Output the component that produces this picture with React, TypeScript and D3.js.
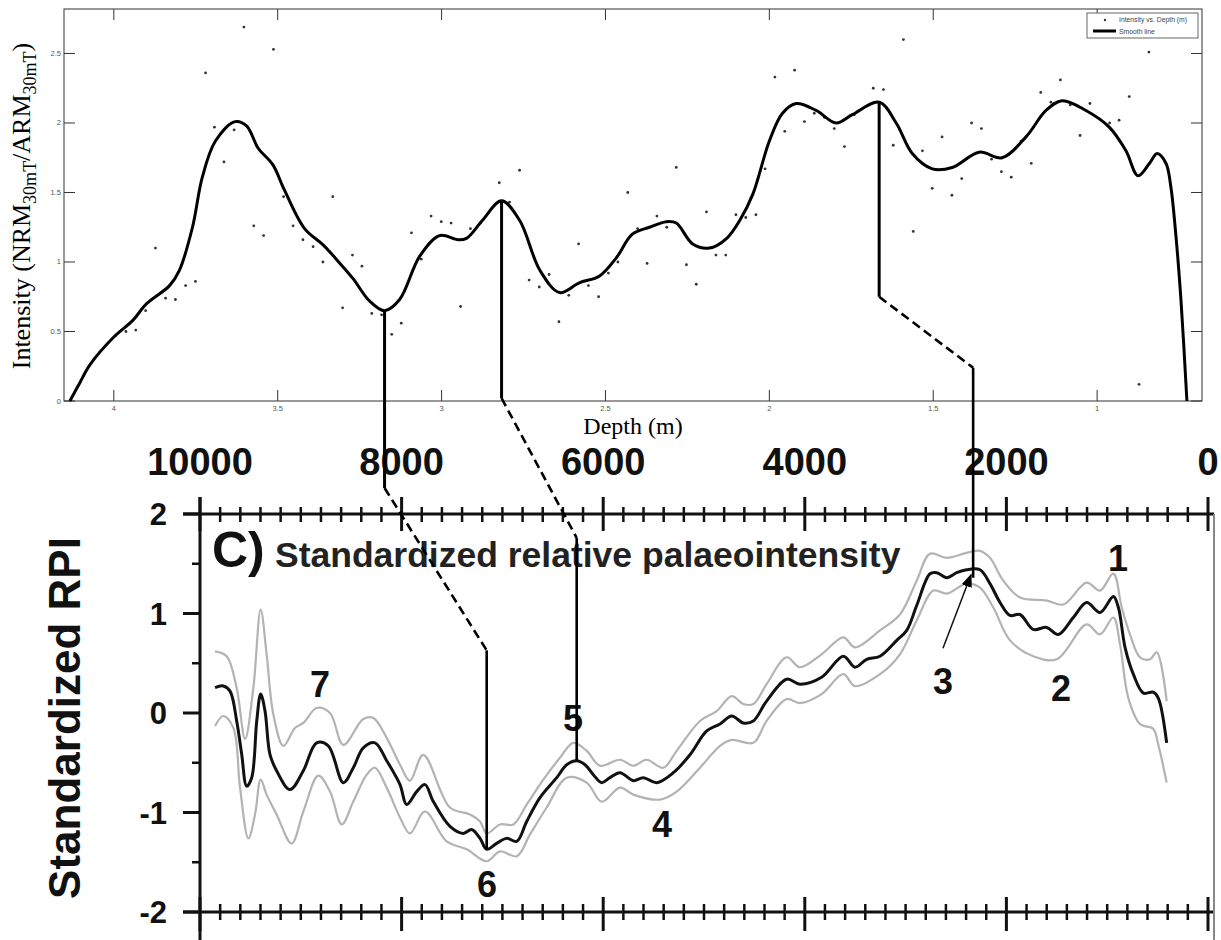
import React from "react";
import * as d3 from "d3";

// ---------- Top panel: intensity vs depth ----------
const smoothDepth = [4.134, 4.104, 4.073, 4.0, 3.942, 3.9, 3.83, 3.8, 3.76, 3.73, 3.69, 3.63, 3.595, 3.56, 3.515, 3.48, 3.418, 3.36, 3.31, 3.27, 3.22, 3.174, 3.128, 3.067, 3.006, 2.95, 2.924, 2.875, 2.817, 2.762, 2.7, 2.64, 2.58, 2.518, 2.467, 2.418, 2.366, 2.314, 2.284, 2.234, 2.183, 2.13, 2.09, 2.05, 2.0, 1.96, 1.918, 1.857, 1.796, 1.747, 1.665, 1.613, 1.564, 1.503, 1.442, 1.36, 1.29, 1.217, 1.156, 1.107, 1.034, 0.963, 0.912, 0.875, 0.84, 0.817, 0.79, 0.775, 0.76, 0.744, 0.726];
const smoothIntensity = [0, 0.13, 0.26, 0.46, 0.58, 0.7, 0.83, 0.94, 1.25, 1.61, 1.87, 2.01, 1.98, 1.82, 1.7, 1.52, 1.24, 1.12, 0.99, 0.88, 0.72, 0.65, 0.73, 1.04, 1.19, 1.16, 1.17, 1.3, 1.44, 1.3, 0.94, 0.78, 0.85, 0.9, 1.03, 1.2, 1.25, 1.29, 1.28, 1.13, 1.1, 1.17, 1.3, 1.49, 1.87, 2.07, 2.14, 2.09, 2.0, 2.06, 2.15, 2.0, 1.78, 1.67, 1.68, 1.79, 1.75, 1.9, 2.09, 2.16, 2.09, 1.97, 1.8, 1.62, 1.71, 1.78, 1.71, 1.54, 1.2, 0.72, 0.0];

const scatterDepth = [3.995, 3.963, 3.933, 3.903, 3.873, 3.842, 3.812, 3.781, 3.751, 3.72, 3.693, 3.664, 3.633, 3.603, 3.573, 3.543, 3.513, 3.482, 3.453, 3.423, 3.392, 3.362, 3.332, 3.302, 3.272, 3.243, 3.213, 3.183, 3.152, 3.123, 3.092, 3.062, 3.032, 3.001, 2.971, 2.942, 2.912, 2.881, 2.824, 2.793, 2.762, 2.733, 2.702, 2.672, 2.642, 2.612, 2.582, 2.552, 2.521, 2.491, 2.462, 2.432, 2.402, 2.373, 2.343, 2.313, 2.284, 2.253, 2.223, 2.192, 2.163, 2.133, 2.102, 2.072, 2.041, 2.013, 1.983, 1.953, 1.923, 1.893, 1.863, 1.832, 1.802, 1.771, 1.741, 1.683, 1.652, 1.622, 1.591, 1.561, 1.533, 1.503, 1.473, 1.443, 1.413, 1.383, 1.353, 1.322, 1.292, 1.262, 1.232, 1.201, 1.172, 1.141, 1.112, 1.082, 1.052, 1.022, 0.962, 0.933, 0.902, 0.872, 0.842];
const scatterIntensity = [0.47, 0.5, 0.51, 0.65, 1.1, 0.74, 0.73, 0.83, 0.86, 2.36, 1.97, 1.72, 1.95, 2.69, 1.26, 1.19, 2.53, 1.47, 1.26, 1.16, 1.11, 1.0, 1.47, 0.67, 1.05, 0.97, 0.63, 0.62, 0.48, 0.56, 1.21, 1.02, 1.33, 1.29, 1.28, 0.68, 1.24, 1.28, 1.57, 1.43, 1.66, 0.87, 0.82, 0.91, 0.57, 0.76, 1.13, 0.83, 0.75, 0.92, 1.0, 1.5, 1.24, 0.99, 1.33, 1.25, 1.68, 0.98, 0.84, 1.36, 1.05, 1.05, 1.34, 1.32, 1.34, 1.67, 2.33, 1.94, 2.38, 2.01, 2.07, 2.04, 1.96, 1.83, 2.06, 2.25, 2.24, 1.84, 2.6, 1.22, 1.8, 1.53, 1.9, 1.48, 1.6, 2.0, 1.96, 1.74, 1.65, 1.61, 1.87, 1.71, 2.22, 2.15, 2.31, 2.13, 1.91, 2.14, 2.0, 2.02, 2.19, 0.12, 2.51];

const depthTicks = [4, 3.5, 3, 2.5, 2, 1.5, 1];
const intensityTicks = [0, 0.5, 1, 1.5, 2, 2.5];

// ---------- Bottom panel: standardized RPI vs age ----------
const rpiAge = [9851, 9769, 9702, 9636, 9587, 9537, 9487, 9437, 9398, 9355, 9306, 9240, 9107, 8975, 8843, 8727, 8578, 8479, 8380, 8264, 8148, 8016, 7950, 7850, 7768, 7685, 7520, 7388, 7305, 7222, 7156, 7057, 6957, 6858, 6759, 6627, 6461, 6362, 6263, 6180, 6098, 6015, 5933, 5833, 5701, 5602, 5470, 5304, 5139, 4973, 4841, 4725, 4610, 4511, 4379, 4180, 4048, 3833, 3618, 3502, 3386, 3254, 3088, 2989, 2890, 2758, 2691, 2592, 2493, 2394, 2262, 2163, 2063, 1964, 1865, 1733, 1600, 1485, 1336, 1204, 1071, 939, 889, 823, 741, 641, 542, 493, 410];
const rpiMean = [0.255, 0.272, 0.22, -0.08, -0.41, -0.735, -0.65, -0.08, 0.19, 0.02, -0.415, -0.58, -0.77, -0.58, -0.3, -0.33, -0.7, -0.55, -0.35, -0.3, -0.48, -0.72, -0.92, -0.79, -0.72, -0.89, -1.14, -1.21, -1.17, -1.26, -1.37, -1.31, -1.26, -1.29, -1.09, -0.85, -0.65, -0.52, -0.48, -0.52, -0.62, -0.7, -0.65, -0.6, -0.68, -0.65, -0.7, -0.6, -0.42, -0.18, -0.11, -0.03, -0.1, -0.08, 0.12, 0.34, 0.29, 0.36, 0.57, 0.46, 0.54, 0.57, 0.73, 0.83, 1.08, 1.4, 1.41, 1.36, 1.41, 1.44, 1.44, 1.3, 1.11, 0.98, 0.99, 0.84, 0.86, 0.79, 0.96, 1.11, 1.01, 1.17, 1.06, 0.66, 0.39, 0.2, 0.21, 0.15, -0.3];

const upperAge = [9851, 9735, 9636, 9553, 9471, 9398, 9339, 9273, 9173, 9058, 8975, 8843, 8710, 8578, 8380, 8280, 8148, 8016, 7917, 7785, 7520, 7321, 7222, 7156, 7024, 6891, 6759, 6594, 6429, 6296, 6164, 6032, 5833, 5701, 5569, 5403, 5271, 5040, 4874, 4725, 4610, 4511, 4379, 4180, 4048, 3833, 3618, 3502, 3254, 3056, 2890, 2758, 2592, 2394, 2262, 2163, 2031, 1865, 1600, 1435, 1204, 1071, 939, 856, 774, 675, 575, 509, 410];
const upperRpi = [0.62, 0.57, 0.25, -0.26, 0.25, 1.04, 0.59, -0.01, -0.33, -0.15, -0.1, 0.05, 0.0, -0.32, -0.06, -0.05, -0.25, -0.52, -0.68, -0.42, -0.95, -1.02, -1.09, -1.21, -1.12, -1.12, -0.92, -0.67, -0.45, -0.3, -0.38, -0.53, -0.47, -0.53, -0.47, -0.55, -0.38, -0.08, 0.02, 0.17, 0.09, 0.09, 0.29, 0.56, 0.46, 0.59, 0.76, 0.66, 0.83, 0.99, 1.33, 1.6, 1.56, 1.61, 1.63, 1.56, 1.33, 1.16, 1.13, 1.09, 1.31, 1.23, 1.4, 1.06, 0.79, 0.56, 0.54, 0.61, 0.12];

const lowerAge = [9851, 9769, 9669, 9603, 9520, 9454, 9398, 9339, 9240, 9091, 8975, 8826, 8710, 8594, 8479, 8346, 8264, 8148, 8016, 7917, 7768, 7553, 7354, 7156, 7024, 6858, 6726, 6561, 6362, 6164, 6015, 5833, 5701, 5437, 5271, 5040, 4841, 4725, 4511, 4379, 4180, 4048, 3833, 3618, 3502, 3254, 3056, 2890, 2724, 2592, 2394, 2262, 2130, 1964, 1733, 1501, 1204, 1071, 939, 873, 790, 675, 542, 493, 410];
const lowerRpi = [-0.13, -0.03, -0.15, -0.75, -1.26, -1.02, -0.67, -0.82, -1.02, -1.31, -0.99, -0.63, -0.79, -1.12, -0.89, -0.62, -0.55, -0.75, -1.05, -1.21, -0.99, -1.29, -1.37, -1.49, -1.39, -1.44, -1.22, -0.95, -0.65, -0.7, -0.89, -0.75, -0.82, -0.87, -0.79, -0.55, -0.33, -0.27, -0.3, -0.08, 0.14, 0.1, 0.19, 0.39, 0.27, 0.39, 0.59, 0.93, 1.23, 1.2, 1.3, 1.26, 1.06, 0.73, 0.57, 0.54, 0.89, 0.79, 0.96, 0.69, 0.15, -0.11, -0.16, -0.32, -0.7];

const ageTicks = [10000, 8000, 6000, 4000, 2000, 0];
const rpiTicks = [2, 1, 0, -1, -2];

const eventLabels = ["1", "2", "3", "4", "5", "6", "7"];
const eventAge = [893, 1458, 2629, 5417, 6300, 7153, 8810];
const eventRpi = [1.56, 0.25, 0.32, -1.12, -0.05, -1.72, 0.29];

// correlation tie lines (top point -> bend -> bottom point)
const tieDepth = [3.174, 2.817, 1.665];
const tieIntensity = [0.65, 1.44, 2.15];
const tieBendIntensity = [-0.626, 0.02, 0.75];
const tieAge = [7156, 6263, 2330];
const tieBendRpi = [0.63, 1.76, 3.47];
const tieEndRpi = [-1.37, -0.48, 1.36];

const arrowAge = [2629, 2351];
const arrowRpi = [0.65, 1.39];

export default function App() {
  const W = 1221, H = 940;
  // top scales
  const xT = d3.scaleLinear().domain([4.152, 0.68]).range([64, 1202]);
  const yT = d3.scaleLinear().domain([0, 2.82]).range([401, 9]);
  // bottom scales
  const xB = d3.scaleLinear().domain([10000, 0]).range([200, 1208]);
  const yB = d3.scaleLinear().domain([-2, 2]).range([912, 514]);

  const smoothLine = d3.line<number>()
    .x((d, i) => xT(smoothDepth[i]))
    .y((d) => yT(d))
    .curve(d3.curveCatmullRom.alpha(0.5));

  const mkLine = (ages: number[]) =>
    d3.line<number>()
      .x((d, i) => xB(ages[i]))
      .y((d) => yB(d))
      .curve(d3.curveCatmullRom.alpha(0.5));

  const serif = "'Liberation Serif', 'Times New Roman', serif";
  const sans = "'Liberation Sans', Arial, Helvetica, sans-serif";
  const axisCol = "#333";

  const minorAges = d3.range(0, 10001, 200).filter((a) => a % 2000 !== 0);
  const minorRpi = [1.5, 0.5, -0.5, -1.5];

  return (
    <svg width={W} height={H} style={{ position: "absolute", left: 0, top: 0, background: "#fff" }}
      xmlns="http://www.w3.org/2000/svg">
      <defs>
        <marker id="ah" viewBox="0 0 10 10" refX="9" refY="5" markerWidth="9" markerHeight="9" orient="auto">
          <path d="M0,1 L10,5 L0,9 Z" fill="#000" />
        </marker>
      </defs>
      <rect width={W} height={H} fill="#fff" />

      {/* ================= TOP PANEL ================= */}
      <g>
        <rect x={xT(4.152)} y={yT(2.82)} width={xT(0.68) - xT(4.152)} height={yT(0) - yT(2.82)}
          fill="none" stroke={axisCol} strokeWidth={1} />
        {depthTicks.map((t) => (
          <g key={"dt" + t}>
            <line x1={xT(t)} x2={xT(t)} y1={yT(0)} y2={yT(0) - 11} stroke={axisCol} />
            <line x1={xT(t)} x2={xT(t)} y1={yT(2.82)} y2={yT(2.82) + 11} stroke={axisCol} />
            <text x={xT(t)} y={yT(0) + 10} fontSize={7.5} fontFamily={sans} fill="#555" textAnchor="middle">{t}</text>
          </g>
        ))}
        {intensityTicks.map((t) => (
          <g key={"it" + t}>
            <line x1={xT(4.152)} x2={xT(4.152) + 11} y1={yT(t)} y2={yT(t)} stroke={axisCol} />
            <line x1={xT(0.68)} x2={xT(0.68) - 11} y1={yT(t)} y2={yT(t)} stroke={axisCol} />
            <text x={xT(4.152) - 3} y={yT(t) + 2.5} fontSize={7.5} fontFamily={sans} fill="#555" textAnchor="end">{t}</text>
          </g>
        ))}
        {scatterDepth.map((d, i) => (
          <circle key={"s" + i} cx={xT(d)} cy={yT(scatterIntensity[i])} r={1.4} fill="#333" />
        ))}
        <path d={smoothLine(smoothIntensity) || ""} fill="none" stroke="#000" strokeWidth={3} strokeLinejoin="round" />

        {/* legend */}
        <rect x={1087} y={13} width={111} height={25} fill="#fff" stroke="#666" strokeWidth={1} />
        <circle cx={1105} cy={20} r={1.2} fill="#333" />
        <text x={1119} y={22.3} fontSize={6.8} fontFamily={sans} fill="#444">Intensity vs. Depth (m)</text>
        <line x1={1093} x2={1116} y1={31} y2={31} stroke="#000" strokeWidth={3} />
        <text x={1119} y={34} fontSize={6.8} fontFamily={sans} fill="#444">Smooth line</text>

        {/* axis labels */}
        <text transform={`translate(30,206) rotate(-90)`} fontSize={26} fontFamily={serif} textAnchor="middle" fill="#000">
          Intensity (NRM<tspan fontSize={18} dy={6}>30mT</tspan><tspan dy={-6}>/ARM</tspan><tspan fontSize={18} dy={6}>30mT</tspan><tspan dy={-6}>)</tspan>
        </text>
        <text x={633} y={434} fontSize={24} fontFamily={serif} textAnchor="middle" fill="#000">Depth (m)</text>
      </g>

      {/* ================= BOTTOM PANEL ================= */}
      <g>
        {/* frame */}
        <line x1={183} x2={1214} y1={yB(2)} y2={yB(2)} stroke="#111" strokeWidth={3} />
        <line x1={183} x2={1214} y1={yB(-2)} y2={yB(-2)} stroke="#111" strokeWidth={3} />
        <line x1={xB(10000)} x2={xB(10000)} y1={497} y2={H} stroke="#111" strokeWidth={3} />
        <line x1={1214} x2={1214} y1={yB(2)} y2={H} stroke="#888" strokeWidth={2} />

        {ageTicks.map((t) => (
          <g key={"at" + t}>
            <line x1={xB(t)} x2={xB(t)} y1={yB(2) - 17} y2={yB(2) + 17} stroke="#111" strokeWidth={3} />
            <line x1={xB(t)} x2={xB(t)} y1={yB(-2) - 15} y2={yB(-2) + 19} stroke="#111" strokeWidth={3} />
            <text x={xB(t)} y={475} fontSize={38} fontWeight="bold" fontFamily={sans} textAnchor="middle" fill="#111">{t}</text>
          </g>
        ))}
        {minorAges.map((t) => (
          <g key={"ma" + t}>
            <line x1={xB(t)} x2={xB(t)} y1={yB(2) - 7} y2={yB(2) + 8} stroke="#111" strokeWidth={2.5} />
            <line x1={xB(t)} x2={xB(t)} y1={yB(-2) - 8} y2={yB(-2) + 8} stroke="#111" strokeWidth={2.5} />
          </g>
        ))}
        {rpiTicks.map((t) => (
          <g key={"rt" + t}>
            <line x1={183} x2={xB(10000)} y1={yB(t)} y2={yB(t)} stroke="#111" strokeWidth={3} />
            <text x={167} y={yB(t) + 11} fontSize={31} fontWeight="bold" fontFamily={sans} textAnchor="end" fill="#111">{t}</text>
          </g>
        ))}
        {minorRpi.map((t) => (
          <line key={"mr" + t} x1={192} x2={xB(10000)} y1={yB(t)} y2={yB(t)} stroke="#111" strokeWidth={2.5} />
        ))}

        <text transform={`translate(80,718) rotate(-90)`} fontSize={44} fontWeight="bold" fontFamily={sans} textAnchor="middle" fill="#111">Standardized RPI</text>

        <text x={212} y={567} fontSize={50} fontWeight="bold" fontFamily={sans} fill="#111">C)</text>
        <text x={275} y={567} fontSize={35.5} fontWeight="bold" fontFamily={sans} fill="#222">Standardized relative palaeointensity</text>

        {/* confidence bounds and mean */}
        <path d={mkLine(upperAge)(upperRpi) || ""} fill="none" stroke="#b3b3b3" strokeWidth={2.2} />
        <path d={mkLine(lowerAge)(lowerRpi) || ""} fill="none" stroke="#b3b3b3" strokeWidth={2.2} />
        <path d={mkLine(rpiAge)(rpiMean) || ""} fill="none" stroke="#111" strokeWidth={3} strokeLinejoin="round" />

        {eventLabels.map((l, i) => (
          <text key={"ev" + l} x={xB(eventAge[i])} y={yB(eventRpi[i]) + 13} fontSize={36} fontWeight="bold" fontFamily={sans} textAnchor="middle" fill="#111">{l}</text>
        ))}

        <line x1={xB(arrowAge[0])} y1={yB(arrowRpi[0])} x2={xB(arrowAge[1])} y2={yB(arrowRpi[1])}
          stroke="#111" strokeWidth={1.5} markerEnd="url(#ah)" />
      </g>

      {/* ================= TIE LINES ================= */}
      {tieDepth.map((d, i) => {
        const x0 = xT(d);
        const y0 = yT(tieIntensity[i]);
        const y1 = yT(tieBendIntensity[i]);
        const x2 = xB(tieAge[i]);
        const y2 = yB(tieBendRpi[i]);
        const y3 = yB(tieEndRpi[i]);
        return (
          <g key={"tie" + i}>
            <line x1={x0} x2={x0} y1={y0} y2={y1} stroke="#000" strokeWidth={3} />
            <line x1={x0} x2={x2} y1={y1} y2={y2} stroke="#000" strokeWidth={2.6} strokeDasharray="9,5" />
            <line x1={x2} x2={x2} y1={y2} y2={y3} stroke="#000" strokeWidth={2.6} />
          </g>
        );
      })}
    </svg>
  );
}
